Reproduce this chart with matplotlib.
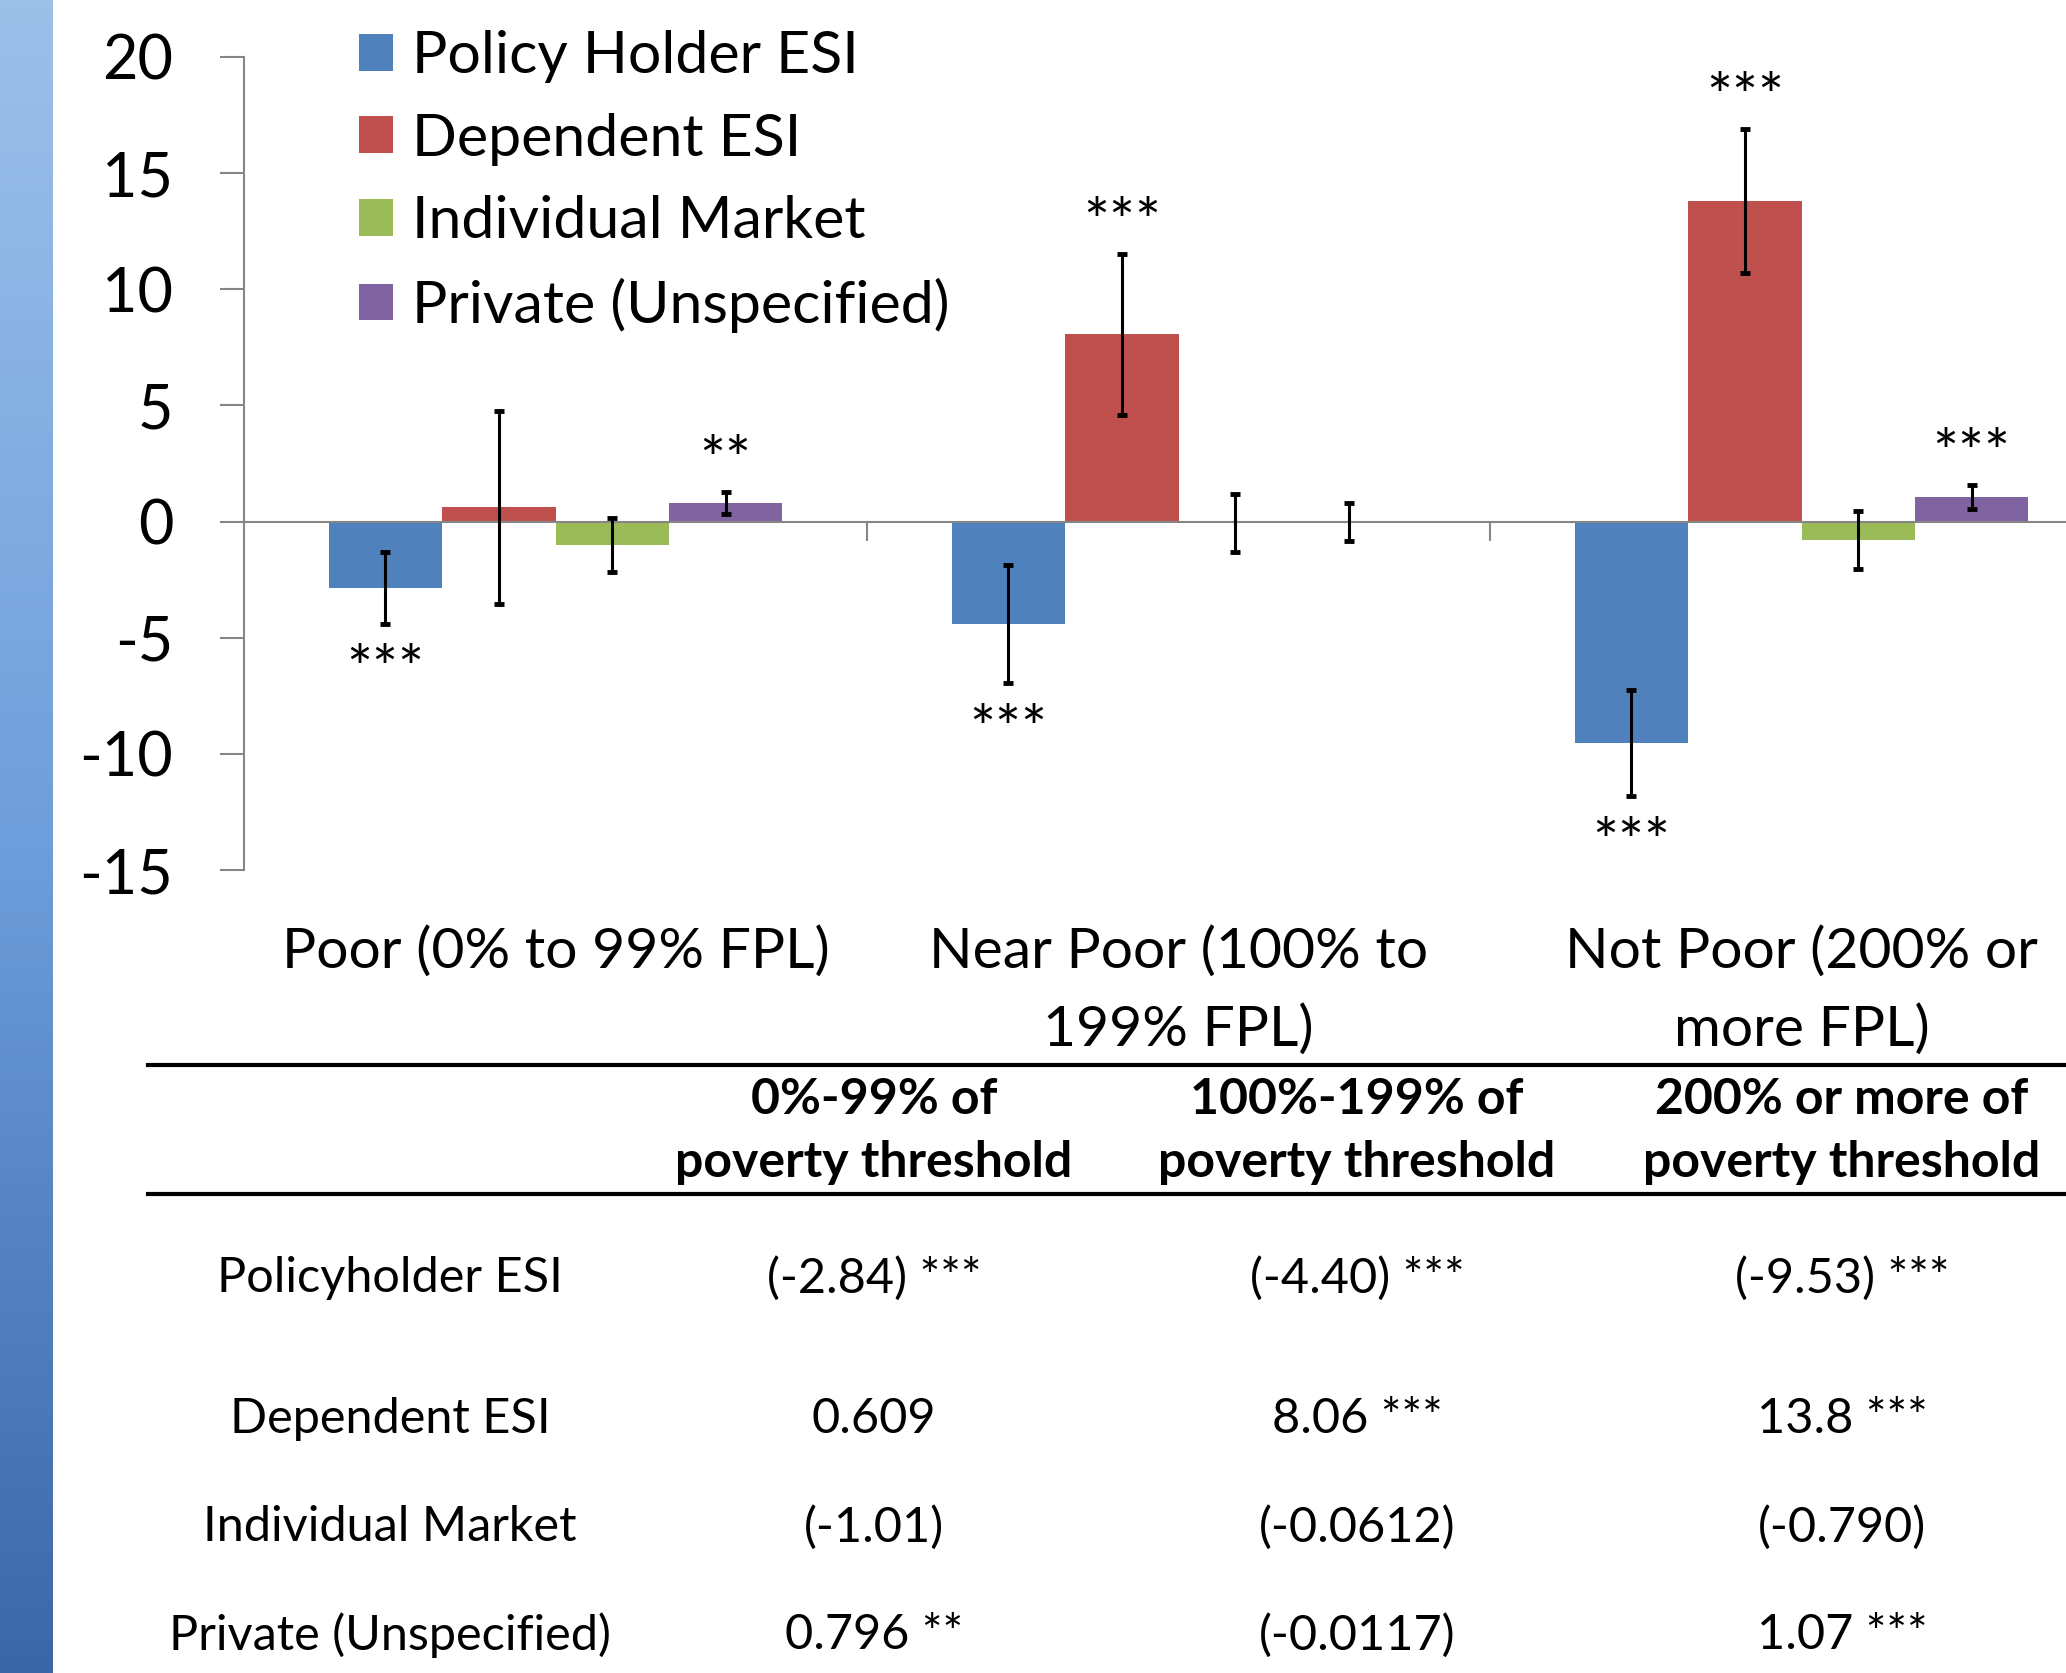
import numpy as np
import matplotlib.pyplot as plt
from matplotlib.colors import LinearSegmentedColormap
from matplotlib.lines import Line2D

plt.rcParams['font.family'] = ['Lato', 'DejaVu Sans']
plt.rcParams['axes.unicode_minus'] = False

categories = ["Poor (0% to 99% FPL)", "Near Poor (100% to\n199% FPL)", "Not Poor (200% or\nmore FPL)"]
series = ["Policy Holder ESI", "Dependent ESI", "Individual Market", "Private (Unspecified)"]
colors = ["#4F81BD", "#C0504D", "#9BBB59", "#8064A2"]

policy_holder = [-2.84, -4.40, -9.53]
dependent = [0.609, 8.06, 13.8]
individual = [-1.01, -0.0612, -0.790]
private = [0.796, -0.0117, 1.07]

policy_holder_err = [1.55, 2.55, 2.30]
dependent_err = [4.17, 3.46, 3.09]
individual_err = [1.16, 1.25, 1.25]
private_err = [0.48, 0.82, 0.51]

policy_holder_sig = ["***", "***", "***"]
dependent_sig = ["", "***", "***"]
individual_sig = ["", "", ""]
private_sig = ["**", "", "***"]

row_labels = ["Policyholder ESI", "Dependent ESI", "Individual Market", "Private (Unspecified)"]
col_headers = ["0%-99% of\npoverty threshold", "100%-199% of\npoverty threshold",
               "200% or more of\npoverty threshold"]

yticks = [-15, -10, -5, 0, 5, 10, 15, 20]

values = [policy_holder, dependent, individual, private]
errors = [policy_holder_err, dependent_err, individual_err, private_err]
stars = [policy_holder_sig, dependent_sig, individual_sig, private_sig]

W, H = 2066, 1673
fig = plt.figure(figsize=(W / 100, H / 100), dpi=100)

# blue band down the left edge of the slide
strip = fig.add_axes([0, 0, 53 / W, 1])
band = LinearSegmentedColormap.from_list('band', ['#9DC0E9', '#6E9EDB', '#3B67A8'])
strip.imshow(np.linspace(0, 1, 256)[:, None], aspect='auto', cmap=band)
strip.axis('off')

ax = fig.add_axes([244 / W, 1 - 870 / H, 1869 / W, 813 / H])
x = np.arange(len(categories))
width = 0.182

for i, (name, vals, errs, sig, c) in enumerate(zip(series, values, errors, stars, colors)):
    pos = x + (i - 1.5) * width
    ax.bar(pos, vals, width, color=c, label=name, zorder=1)
    ax.errorbar(pos, vals, yerr=errs, fmt='none', ecolor='black',
                elinewidth=2.2, capsize=3.6, capthick=3.5, zorder=3)
    for p, v, e, s in zip(pos, vals, errs, sig):
        if not s:
            continue
        if v >= 0:
            ax.annotate(s, (p, v + e), xytext=(0, 8), textcoords='offset points',
                        ha='center', va='baseline', fontsize=44)
        else:
            ax.annotate(s, (p, v - e), xytext=(0, -48), textcoords='offset points',
                        ha='center', va='baseline', fontsize=44)

ax.set_xlim(-0.5, 2.5)
ax.set_ylim(-15, 20)
ax.set_yticks(yticks)
for side in ['top', 'right']:
    ax.spines[side].set_visible(False)
ax.spines['left'].set_color('#868686')
ax.spines['left'].set_linewidth(1.5)
ax.spines['bottom'].set_position(('data', 0))
ax.spines['bottom'].set_color('#868686')
ax.spines['bottom'].set_linewidth(1.5)
ax.set_xticks([0.5, 1.5])
ax.set_xticklabels([])
ax.tick_params(axis='x', direction='out', length=14, color='#868686', width=1.5)
ax.tick_params(axis='y', direction='out', length=17, color='#868686', width=1.5,
               pad=34, labelsize=44)

for i, cat in enumerate(categories):
    ax.annotate(cat, (i, 0), xycoords=('data', 'axes fraction'), xytext=(0, -40),
                textcoords='offset points', ha='center', va='top', fontsize=41,
                linespacing=1.62)

ax.legend(loc='upper left', bbox_to_anchor=(359 / W, 1 - 30 / H), bbox_transform=fig.transFigure,
          frameon=False, fontsize=42.5, handlelength=0.58, handleheight=0.58,
          handletextpad=0.31, labelspacing=0.5, borderaxespad=0, borderpad=0)

# regression table below the chart
for yy in [1065, 1194]:
    fig.add_artist(Line2D([148 / W, 1.0], [1 - yy / H] * 2, lw=3, color='black'))

col_x = [874, 1357, 1842]
label_x = 390
row_y = [1278, 1419, 1527, 1635]

for cx, head in zip(col_x, col_headers):
    fig.text(cx / W, 1 - 1131 / H, head, ha='center', va='center', fontsize=36,
             fontweight='bold', linespacing=1.5)

for r, (lab, vals, sig) in enumerate(zip(row_labels, values, stars)):
    fig.text(label_x / W, 1 - row_y[r] / H, lab, ha='center', va='center', fontsize=35)
    for cx, v, s in zip(col_x, vals, sig):
        txt = f"{v:#.3g}"
        if v < 0:
            txt = f"({txt})"
        if s:
            txt = f"{txt} {s}"
        fig.text(cx / W, 1 - row_y[r] / H, txt, ha='center', va='center', fontsize=35)

fig.savefig('out.png', dpi=100)
